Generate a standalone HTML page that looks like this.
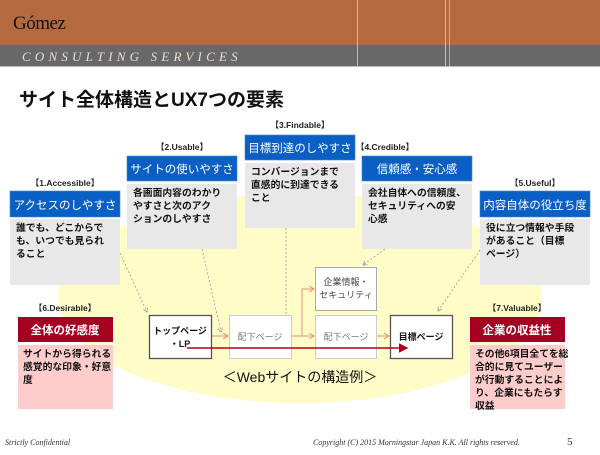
<!DOCTYPE html>
<html><head><meta charset="utf-8"><style>
body{margin:0;width:600px;height:450px;overflow:hidden;background:#fff;font-family:"Liberation Sans","Noto Sans CJK JP",sans-serif}
</style></head><body>
<svg width="600" height="450" xmlns="http://www.w3.org/2000/svg" font-family="Liberation Sans, Noto Sans CJK JP, sans-serif">
<defs>
<marker id="ga" markerWidth="6" markerHeight="6" refX="5" refY="3" orient="auto"><path d="M0,0 L5,3 L0,6" fill="none" stroke="#999" stroke-width="1"/></marker>
<marker id="sa" markerWidth="6" markerHeight="6" refX="5" refY="3" orient="auto"><path d="M0,0 L5,3 L0,6" fill="none" stroke="#e8907a" stroke-width="1"/></marker>
<marker id="ra" markerWidth="6" markerHeight="6" refX="5" refY="3" orient="auto"><path d="M0,0 L6,3 L0,6 z" fill="#b00020"/></marker>
</defs>
<rect x="0" y="0" width="600" height="45" fill="#b46a3e"/>
<rect x="0" y="45" width="600" height="21" fill="#686868"/>
<rect x="0" y="66" width="600" height="1" fill="#bbb"/>
<line x1="357.5" y1="0" x2="357.5" y2="66" stroke="#ddd" stroke-width="0.7"/>
<line x1="445.5" y1="0" x2="445.5" y2="66" stroke="#e6b89a" stroke-width="1"/>
<line x1="449.5" y1="0" x2="449.5" y2="66" stroke="#ccc" stroke-width="0.7"/>
<text x="13" y="29" font-family="Liberation Serif, serif" font-size="19" fill="#111" letter-spacing="-0.5">Gómez</text>
<text x="22" y="61" font-family="Liberation Serif, serif" font-style="italic" font-size="13" letter-spacing="4.2" fill="#e8dcd6">CONSULTING SERVICES</text>
<text x="19" y="106" font-size="19" font-weight="bold" fill="#111">サイト全体構造とUX7つの要素</text>

<ellipse cx="300" cy="298" rx="242" ry="105" fill="#fffcc8"/>

<g stroke="#999" stroke-width="0.8" stroke-dasharray="2,2" fill="none" marker-end="url(#ga)">
<line x1="120" y1="253" x2="147" y2="312"/>
<line x1="202" y1="249" x2="221" y2="332"/>
<line x1="286" y1="228" x2="286" y2="348"/>
<line x1="385" y1="249" x2="363" y2="265"/>
<line x1="480" y1="250" x2="438" y2="311"/>
</g>

<g stroke="#e8907a" stroke-width="1" fill="none" marker-end="url(#sa)">
<line x1="211" y1="336" x2="228" y2="336"/>
<line x1="291" y1="336" x2="314" y2="336"/>
<polyline points="302,336 302,289 314,289"/>
<line x1="376" y1="336" x2="389" y2="336"/>
</g>
<rect x="149.5" y="315.5" width="62" height="43" fill="#fff" stroke="#555" stroke-width="1.3"/>
<rect x="229.5" y="315.5" width="62" height="43" fill="#fff" stroke="#ccc"/>
<rect x="315.5" y="315.5" width="61" height="43" fill="#fff" stroke="#ccc"/>
<rect x="315.5" y="267.5" width="61" height="43" fill="#fff" stroke="#aaa"/>
<rect x="390.5" y="315.5" width="62" height="43" fill="#fff" stroke="#555" stroke-width="1.3"/>
<g font-size="9" text-anchor="middle">
<text x="180" y="334" font-weight="bold" fill="#111">トップページ</text>
<text x="180" y="347" font-weight="bold" fill="#111">・LP</text>
<text x="260" y="340" fill="#777">配下ページ</text>
<text x="346" y="340" fill="#777">配下ページ</text>
<text x="346" y="285" fill="#444">企業情報・</text>
<text x="346" y="298" fill="#444">セキュリティ</text>
<text x="421" y="340" font-weight="bold" fill="#111">目標ページ</text>
</g>
<line x1="187" y1="348" x2="407" y2="348" stroke="#b00020" stroke-width="1.6" marker-end="url(#ra)"/>
<text x="300" y="382" font-size="14" text-anchor="middle" fill="#111">＜Webサイトの構造例＞</text>

<g font-size="8.5" font-weight="bold" text-anchor="middle" fill="#222">
<text x="65" y="186">【1.Accessible】</text>
<text x="182" y="150">【2.Usable】</text>
<text x="300" y="128">【3.Findable】</text>
<text x="385" y="150">【4.Credible】</text>
<text x="535" y="186">【5.Useful】</text>
<text x="65" y="311">【6.Desirable】</text>
<text x="517" y="311">【7.Valuable】</text>
</g>
<g fill="#0a5fc4" stroke="#4a86d0" stroke-width="0.6">
<rect x="10" y="191" width="110" height="26"/>
<rect x="127" y="156" width="110" height="25"/>
<rect x="245" y="135" width="110" height="25"/>
<rect x="362" y="156" width="110" height="25"/>
<rect x="480" y="191" width="110" height="26"/>
</g>
<g fill="#e8e8e8">
<rect x="10" y="219" width="110" height="66"/>
<rect x="127" y="184" width="110" height="65"/>
<rect x="245" y="163" width="110" height="65"/>
<rect x="362" y="184" width="110" height="65"/>
<rect x="480" y="219" width="110" height="66"/>
</g>
<rect x="18" y="317" width="95" height="25" fill="#a50021"/>
<rect x="470" y="317" width="95" height="25" fill="#a50021"/>
<rect x="18" y="345" width="95" height="64" fill="#ffcccc"/>
<rect x="470" y="345" width="95" height="64" fill="#ffcccc"/>
<g font-size="11.5" fill="#fff" text-anchor="middle">
<text x="65" y="209">アクセスのしやすさ</text>
<text x="182" y="173">サイトの使いやすさ</text>
<text x="300" y="152">目標到達のしやすさ</text>
<text x="417" y="173">信頼感・安心感</text>
<text x="535" y="209">内容自体の役立ち度</text>
<text x="65" y="334" font-weight="bold">全体の好感度</text>
<text x="517" y="334" font-weight="bold">企業の収益性</text>
</g>
<g font-size="9.8" font-weight="bold" fill="#111">
<text x="16" y="231">誰でも、どこからで</text><text x="16" y="244">も、いつでも見られ</text><text x="16" y="257">ること</text>
<text x="133" y="196">各画面内容のわかり</text><text x="133" y="209">やすさと次のアク</text><text x="133" y="222">ションのしやすさ</text>
<text x="251" y="175">コンバージョンまで</text><text x="251" y="188">直感的に到達できる</text><text x="251" y="201">こと</text>
<text x="368" y="196">会社自体への信頼度、</text><text x="368" y="209">セキュリティへの安</text><text x="368" y="222">心感</text>
<text x="486" y="231">役に立つ情報や手段</text><text x="486" y="244">があること（目標</text><text x="486" y="257">ページ）</text>
<text x="23" y="357">サイトから得られる</text><text x="23" y="370">感覚的な印象・好意</text><text x="23" y="383">度</text>
<text x="475" y="357">その他6項目全てを総</text><text x="475" y="370">合的に見てユーザー</text><text x="475" y="383">が行動することによ</text><text x="475" y="396">り、企業にもたらす</text><text x="475" y="409">収益</text>
</g>
<g font-family="Liberation Serif, serif" font-style="italic" font-size="8" fill="#333">
<text x="5" y="445">Strictly Confidential</text>
<text x="313" y="445">Copyright (C) 2015 Morningstar Japan K.K.  All rights reserved.</text>
</g>
<text x="567" y="445" font-family="Liberation Serif, serif" font-size="11" fill="#333">5</text>
</svg>
</body></html>
